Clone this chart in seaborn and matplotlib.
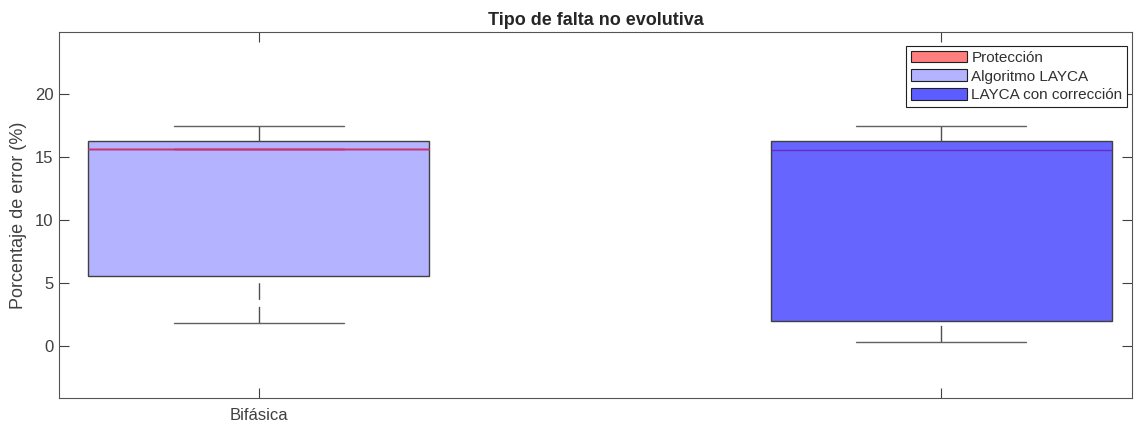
import pandas as pd
import matplotlib.pyplot as plt
import seaborn as sns
from matplotlib.patches import Patch

# data (percent error)
categorias = ["Bifásica", ""]
proteccion = [15.6, 15.6, 15.6, 15.6, 15.6]
algoritmo_layca = [1.85, 5.54, 15.6, 16.23, 17.42]
layca_correccion = [0.34, 2.03, 15.57, 16.23, 17.42]

series = ["Protección", "Algoritmo LAYCA", "LAYCA con corrección"]
colores_leyenda = ["#FF7F7F", "#B3B3FF", "#5C5CFF"]

df_alg = pd.DataFrame({"tipo": categorias[0], "error": algoritmo_layca})
df_prot = pd.DataFrame({"tipo": categorias[0], "error": proteccion})
df_corr = pd.DataFrame({"tipo": categorias[1], "error": layca_correccion})

sns.set_style("white")
plt.rcParams["font.family"] = ["Liberation Sans", "DejaVu Sans"]

fig = plt.figure(figsize=(11.35, 4.23), dpi=100)
ax = fig.add_axes([0.052, 0.0591, 0.9454, 0.8652])

gris = "#404040"
comun = dict(x="tipo", y="error", order=categorias, width=0.5, saturation=1,
             linewidth=1, ax=ax, whis=1.5,
             whiskerprops={"linestyle": (0, (12, 5)), "color": "#505050"},
             capprops={"color": "#606060"})

sns.boxplot(data=df_alg, color="#B3B3FF", linecolor=gris,
            medianprops={"color": "#C8336E"}, **comun)
sns.boxplot(data=df_corr, color="#6666FF", linecolor=gris,
            medianprops={"color": "#6A2CC0"}, **comun)
sns.boxplot(data=df_prot, color="#FF8080", linecolor="#C8336E",
            medianprops={"color": "#C8336E"},
            **{k: v for k, v in comun.items() if k not in ("whiskerprops", "capprops")})

# MATLAB-like dashed whiskers start at the cap
for ln in ax.lines:
    xd, yd = ln.get_xdata(), ln.get_ydata()
    if len(xd) == 2 and xd[0] == xd[1]:
        ln.set_data(list(xd)[::-1], list(yd)[::-1])

ax.set_xlim(-0.293, 1.28)
ax.set_ylim(-4.09, 24.88)
ax.set_yticks([0, 5, 10, 15, 20])
ax.set_xlabel("")
ax.set_ylabel("Porcentaje de error (%)", fontsize=13, color=gris, labelpad=6)
ax.set_title("Tipo de falta no evolutiva", fontsize=13, fontweight="bold", pad=5)

ax.tick_params(direction="in", top=True, right=True, bottom=True, left=True,
               length=7, width=0.8, colors=gris, labelsize=12)
ax.tick_params(axis="x", pad=7)
ax.tick_params(axis="y", pad=4)
for s in ax.spines.values():
    s.set_visible(True)
    s.set_color("#555555")
    s.set_linewidth(0.8)

handles = [Patch(facecolor=c, edgecolor="#202020", linewidth=0.8) for c in colores_leyenda]
leg = ax.legend(handles, series, loc="upper right", bbox_to_anchor=(0.9953, 0.9617),
                borderaxespad=0, fontsize=11, handlelength=3.7, handleheight=0.8,
                labelspacing=0.3, handletextpad=0.25, borderpad=0.3,
                fancybox=False, framealpha=1, edgecolor="#202020")
leg.get_frame().set_linewidth(0.8)
for t in leg.get_texts():
    t.set_color("#303030")

fig.savefig("out.png", dpi=100)
